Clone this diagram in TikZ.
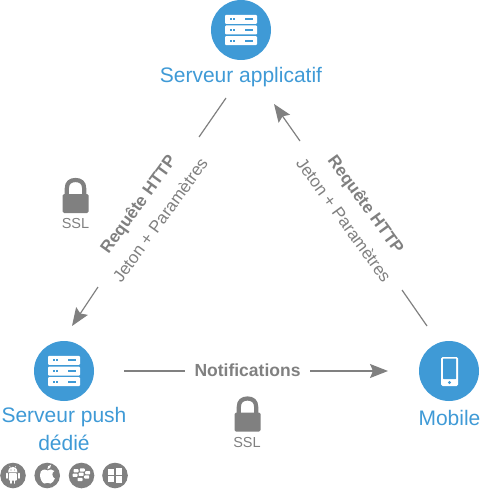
\documentclass[tikz,border=0pt]{standalone}
\usepackage{fontspec}
\setmainfont{Liberation Sans}
\usetikzlibrary{arrows.meta}
\definecolor{bleu}{HTML}{3F9AD6}
\definecolor{gris}{HTML}{808080}
\tikzset{
  disc/.style={circle,fill=bleu,minimum size=60pt,inner sep=0pt},
  osdisc/.style={circle,fill=gris,minimum size=25.6pt,inner sep=0pt},
  title/.style={text=bleu,font=\fontsize{21}{25}\selectfont,align=center,inner sep=0pt},
  boldlab/.style={text=gris,font=\fontsize{17}{20}\selectfont\bfseries,inner sep=0pt},
  lightlab/.style={text=gris,font=\fontsize{17}{20}\selectfont,inner sep=0pt},
  ssl/.style={text=gris,font=\fontsize{14.5}{17}\selectfont,inner sep=0pt},
  link/.style={draw=gris,line width=1.2pt},
  arrowlink/.style={link,-{Stealth[length=18pt,width=14pt,inset=3pt]}},
}
\newcommand{\serverglyph}[2]{%
  \foreach \dy in {-10.7,0,10.7}{
    \fill[white,rounded corners=1pt] (#1-16,#2+\dy-4.5) rectangle (#1+16,#2+\dy+4.5);
    \fill[bleu] (#1-11.5,#2+\dy-1) rectangle (#1-9.5,#2+\dy+1);
    \fill[bleu] (#1-8,#2+\dy-1) rectangle (#1-6,#2+\dy+1);
    \fill[bleu] (#1+3.5,#2+\dy-1) rectangle (#1+11.5,#2+\dy+1);
  }}
\newcommand{\lockglyph}[2]{%
  \draw[gris,line width=4.2pt] (#1-8.7,#2+18) -- (#1-8.7,#2+10.5)
     .. controls (#1-8.7,#2+4.5) and (#1-5,#2+2) .. (#1,#2+2)
     .. controls (#1+5,#2+2) and (#1+8.7,#2+4.5) .. (#1+8.7,#2+10.5) -- (#1+8.7,#2+18);
  \fill[gris,rounded corners=1.5pt] (#1-13,#2+16) rectangle (#1+13,#2+35);
}
\begin{document}
\begin{tikzpicture}[x=1pt,y=-1pt]
\useasboundingbox (0,0) rectangle (480,489);

% main nodes
\node[disc] (app) at (241,30) {};
\node[disc] (push) at (64,371) {};
\node[disc] (mob) at (449,371) {};
\serverglyph{241}{30}
\serverglyph{64}{371}
\node[title] (appt) at (241,77) {Serveur applicatif};
\node[title] (pusht) at (64,417) {Serveur push};
\node[title] (pushd) at (64,443) {dédié};
\node[title] (mobt) at (449.5,418) {Mobile};

% phone
\fill[white,rounded corners=1.5pt] (441,357) rectangle (458,386);
\fill[bleu,rounded corners=.5pt] (443,358.5) rectangle (456,379);
\fill[bleu] (449.5,382.5) circle (1.7);

% connectors
\coordinate (a1) at (226,98);
\coordinate (a2) at (199,137);
\coordinate (a3) at (98,287);
\coordinate (a4) at (72,326);
\coordinate (b1) at (427,326);
\coordinate (b2) at (402,290);
\coordinate (b3) at (300,141);
\coordinate (b4) at (274,104);
\coordinate (c1) at (124,371);
\coordinate (c2) at (185,371);
\coordinate (c3) at (310,371);
\coordinate (c4) at (388,371);
\draw[link] (a1) -- (a2);
\draw[arrowlink] (a3) -- (a4);
\draw[link] (b1) -- (b2);
\draw[arrowlink] (b3) -- (b4);
\draw[link] (c1) -- (c2);
\draw[arrowlink] (c3) -- (c4);

% labels
\node[boldlab,rotate=54] (l1) at (139,205) {Requête HTTP};
\node[lightlab,rotate=54] (l2) at (160,220) {Jeton + Paramètres};
\node[boldlab,rotate=-54] (l3) at (365,205) {Requête HTTP};
\node[lightlab,rotate=-54] (l4) at (344,220) {Jeton + Paramètres};
\node[boldlab,font=\fontsize{17.5}{20}\selectfont\bfseries] (l5) at (247.5,370.5) {Notifications};

% locks
\lockglyph{75.5}{178}
\node[ssl] (s1) at (75.5,224) {SSL};
\lockglyph{247.5}{396.5}
\node[ssl] (s2) at (247,443) {SSL};

% OS discs
\node[osdisc] (os1) at (13,475.5) {};
\node[osdisc] (os2) at (47.2,475.5) {};
\node[osdisc] (os3) at (81.5,475.5) {};
\node[osdisc] (os4) at (115,475.5) {};

% android
\fill[white] (8.2,472.3) .. controls (8.2,469) and (10,466.8) .. (12.8,466.8)
  .. controls (15.6,466.8) and (17.4,469) .. (17.4,472.3) -- cycle;
\draw[white,line width=.5pt] (10.5,467.5) -- (9.5,466) (15,467.5) -- (16,466);
\fill[white,rounded corners=.8pt] (8.8,473) rectangle (16.8,480.5);
\draw[white,line width=1.6pt,line cap=round] (6.7,473.5) -- (6.7,478) (18.9,473.5) -- (18.9,478) (11,480.5) -- (11,483) (14.6,480.5) -- (14.6,483);
\fill[gris] (11,470) circle (.55) (14.6,470) circle (.55);

% apple
\fill[white] (47.5,470.5) .. controls (44.5,468.5) and (40,469.5) .. (40,475)
  .. controls (40,479) and (42.5,483.5) .. (44.5,483.5)
  .. controls (45.8,483.5) and (46.3,482.8) .. (47.5,482.8)
  .. controls (48.8,482.8) and (49.3,483.5) .. (50.5,483.5)
  .. controls (52.3,483.5) and (54,480.5) .. (54.8,478.5)
  .. controls (51.8,477) and (51.5,472.5) .. (54.3,471)
  .. controls (52.5,469) and (49.5,469) .. (47.5,470.5) -- cycle;
\fill[white] (47.3,469.3) .. controls (47,466.8) and (48.8,465.2) .. (51,464.8)
  .. controls (51.3,467.2) and (49.5,469.2) .. (47.3,469.3) -- cycle;

% blackberry
\foreach \px/\py in {76/470.7,82.3/470,75/475.2,81.2/474.3,87.7/472.7,80/479.5,86.7/477}{
  \fill[white,rounded corners=.7pt] (\px-2.5,\py-1.6) rectangle (\px+2.5,\py+1.6);
}

% windows
\fill[white] (108,469) rectangle (114.4,475);
\fill[white] (115.6,468.3) rectangle (122,475);
\fill[white] (108,476.2) rectangle (114.4,482);
\fill[white] (115.6,476.2) rectangle (122,482.7);
\end{tikzpicture}
\end{document}
